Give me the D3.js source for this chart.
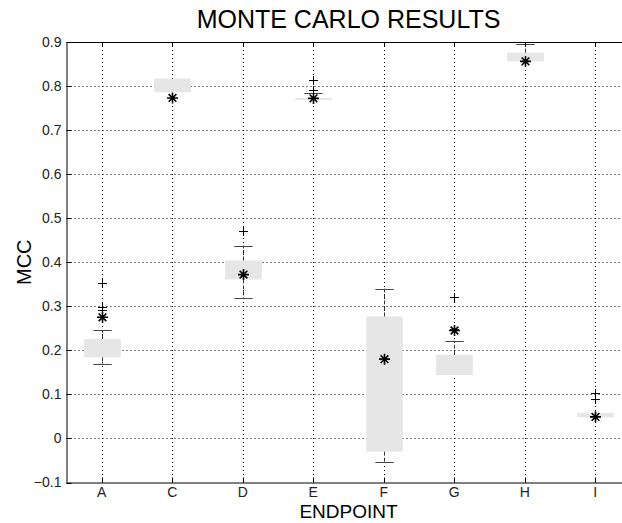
<!DOCTYPE html>
<html>
<head>
<meta charset="utf-8">
<script src="https://cdn.jsdelivr.net/npm/d3@7"></script>
<style>
  body { margin: 0; background: #fff; }
  text { font-family: "Liberation Sans", Arial, sans-serif; }
</style>
</head>
<body>
<svg id="chart"></svg>
<script>
// endpoints on the x axis
const categories = ["A", "C", "D", "E", "F", "G", "H", "I"];
// box edges (25th / 75th percentile)
const boxLow = [0.184, 0.786, 0.361, 0.768, -0.030, 0.144, 0.856, 0.048];
const boxHigh = [0.226, 0.817, 0.404, 0.773, 0.277, 0.190, 0.876, 0.058];
// whisker ends
const whiskerLow = [0.169, 0.786, 0.318, 0.768, -0.054, 0.143, 0.856, 0.048];
const whiskerHigh = [0.246, 0.817, 0.438, 0.785, 0.340, 0.222, 0.895, 0.058];
// outliers ("+")
const outliers = [[0.353, 0.298, 0.291], [], [0.472], [0.813, 0.790], [], [0.322, 0.248], [], [0.103, 0.090]];
// actual result ("*")
const actual = [0.275, 0.773, 0.372, 0.772, 0.180, 0.245, 0.856, 0.049];
const yTicks = [-0.1, 0, 0.1, 0.2, 0.3, 0.4, 0.5, 0.6, 0.7, 0.8, 0.9];

const W = 622, H = 523;
const mLeft = 66.5, mRight = 630.5, mTop = 42, mBottom = 482.5;

const svg = d3.select("#chart")
    .attr("width", W)
    .attr("height", H);

svg.append("rect").attr("width", W).attr("height", H).attr("fill", "#fff");

const x = d3.scaleBand()
    .domain(categories)
    .range([mLeft, mRight])
    .padding(0);
const cx = c => x(c) + x.bandwidth() / 2;

const y = d3.scaleLinear()
    .domain([-0.1, 0.9])
    .range([mBottom, mTop]);

// dotted grid
const grid = svg.append("g")
    .attr("stroke", "#000")
    .attr("stroke-width", 1)
    .attr("stroke-dasharray", "1,3");
yTicks.slice(1, -1).forEach(t => {
    grid.append("line")
        .attr("x1", mLeft).attr("x2", mRight)
        .attr("y1", Math.round(y(t)) + 0.5).attr("y2", Math.round(y(t)) + 0.5);
});
categories.forEach(c => {
    grid.append("line")
        .attr("x1", Math.round(cx(c)) + 0.5).attr("x2", Math.round(cx(c)) + 0.5)
        .attr("y1", mTop).attr("y2", mBottom);
});

// boxes, whiskers, outliers
const bw = x.bandwidth() * 0.52;
categories.forEach((c, i) => {
    const xc = Math.round(cx(c)) + 0.5;
    const g = svg.append("g");

    g.append("rect")
        .attr("x", xc - bw / 2)
        .attr("y", y(boxHigh[i]))
        .attr("width", bw)
        .attr("height", Math.max(1.5, y(boxLow[i]) - y(boxHigh[i])))
        .attr("fill", "#e6e6e6");

    // whiskers (dashed)
    [[boxHigh[i], whiskerHigh[i]], [boxLow[i], whiskerLow[i]]].forEach(([a, b]) => {
        if (Math.abs(y(a) - y(b)) < 1) return;
        g.append("line")
            .attr("x1", xc).attr("x2", xc)
            .attr("y1", y(a)).attr("y2", y(b))
            .attr("stroke", "#333")
            .attr("stroke-width", 1)
            .attr("stroke-dasharray", "4,2");
    });
    // caps
    [whiskerHigh[i], whiskerLow[i]].forEach((v, k) => {
        if (Math.abs(y(v) - y(k === 0 ? boxHigh[i] : boxLow[i])) < 1) return;
        g.append("line")
            .attr("x1", xc - bw / 4).attr("x2", xc + bw / 4)
            .attr("y1", Math.round(y(v)) + 0.5).attr("y2", Math.round(y(v)) + 0.5)
            .attr("stroke", "#444")
            .attr("stroke-width", 1);
    });

    // outliers as "+"
    outliers[i].forEach(v => {
        const yy = Math.round(y(v)) + 0.5;
        g.append("path")
            .attr("d", `M${xc - 4.5},${yy}H${xc + 4.5}M${xc},${yy - 4.5}V${yy + 4.5}`)
            .attr("stroke", "#000")
            .attr("stroke-width", 1);
    });

    // actual value as "*"
    const ya = y(actual[i]);
    const r = 5.5, d = r * 0.7;
    g.append("path")
        .attr("d", `M${xc - r},${ya}H${xc + r}M${xc},${ya - r}V${ya + r}` +
            `M${xc - d},${ya - d}L${xc + d},${ya + d}M${xc - d},${ya + d}L${xc + d},${ya - d}`)
        .attr("stroke", "#000")
        .attr("stroke-width", 1.6);
});

// axes box
svg.append("rect")
    .attr("x", mLeft + 0.5).attr("y", mTop + 0.5)
    .attr("width", mRight - mLeft).attr("height", mBottom - mTop)
    .attr("fill", "none")
    .attr("stroke", "#000")
    .attr("stroke-width", 1);

// inward ticks
const tickLen = 5;
const ticks = svg.append("g").attr("stroke", "#000").attr("stroke-width", 1);
yTicks.forEach(t => {
    const yy = Math.round(y(t)) + 0.5;
    ticks.append("line").attr("x1", mLeft).attr("x2", mLeft + tickLen).attr("y1", yy).attr("y2", yy);
    ticks.append("line").attr("x1", mRight - tickLen).attr("x2", mRight).attr("y1", yy).attr("y2", yy);
});
categories.forEach(c => {
    const xx = Math.round(cx(c)) + 0.5;
    ticks.append("line").attr("x1", xx).attr("x2", xx).attr("y1", mBottom).attr("y2", mBottom - tickLen);
    ticks.append("line").attr("x1", xx).attr("x2", xx).attr("y1", mTop).attr("y2", mTop + tickLen);
});

// tick labels
yTicks.forEach(t => {
    svg.append("text")
        .attr("x", mLeft - 5)
        .attr("y", y(t))
        .attr("dy", "0.35em")
        .attr("text-anchor", "end")
        .attr("font-size", 14)
        .attr("fill", "#222")
        .text(d3.format("")(+t.toFixed(1)));
});
categories.forEach(c => {
    svg.append("text")
        .attr("x", cx(c))
        .attr("y", mBottom + 14.5)
        .attr("text-anchor", "middle")
        .attr("font-size", 14)
        .attr("fill", "#222")
        .text(c);
});

// titles
svg.append("text")
    .attr("x", (mLeft + mRight) / 2)
    .attr("y", 28)
    .attr("text-anchor", "middle")
    .attr("font-size", 25)
    .text("MONTE CARLO RESULTS");

svg.append("text")
    .attr("x", (mLeft + mRight) / 2)
    .attr("y", 518)
    .attr("text-anchor", "middle")
    .attr("font-size", 19)
    .text("ENDPOINT");

svg.append("text")
    .attr("transform", `translate(31,${(mTop + mBottom) / 2}) rotate(-90)`)
    .attr("text-anchor", "middle")
    .attr("font-size", 20)
    .text("MCC");
</script>
</body>
</html>
